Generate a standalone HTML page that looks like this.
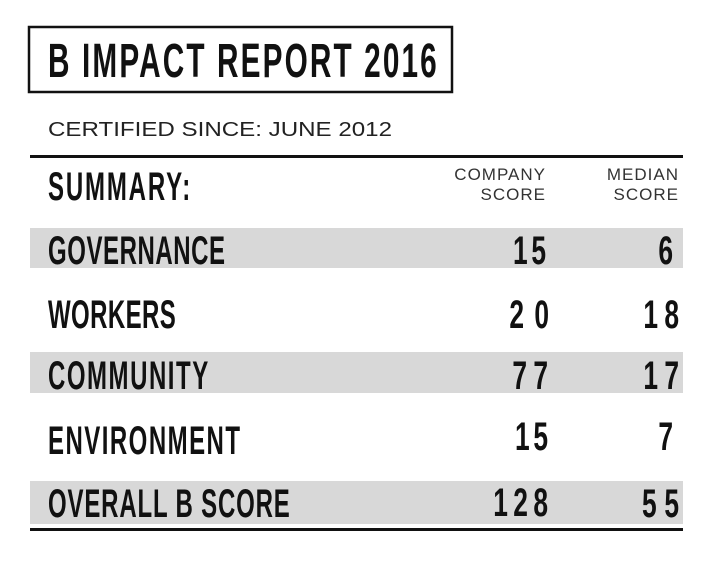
<!DOCTYPE html>
<html><head><style>html,body{margin:0;padding:0;background:#fff;}svg{display:block}</style></head>
<body>
<svg width="721" height="566" viewBox="0 0 721 566" xmlns="http://www.w3.org/2000/svg">
<rect width="721" height="566" fill="#fff"/>
<rect x="29" y="27" width="423" height="65" fill="none" stroke="#111" stroke-width="2.5"/>
<g font-family="Liberation Sans, sans-serif" fill="#111">
<text transform="translate(48,77) scale(0.62,1)" font-size="48" font-weight="bold" textLength="627" lengthAdjust="spacing">B IMPACT REPORT 2016</text>
<text x="48" y="136" font-size="20" textLength="344" lengthAdjust="spacingAndGlyphs" fill="#222">CERTIFIED SINCE: JUNE 2012</text>
<rect x="30" y="155" width="653" height="3" fill="#111"/>
<text transform="translate(48,200) scale(0.6,1)" font-size="40" font-weight="bold" textLength="237" lengthAdjust="spacing">SUMMARY:</text>
<text x="546" y="180" font-size="17" text-anchor="end" fill="#333" letter-spacing="1">COMPANY</text>
<text x="546" y="200" font-size="17" text-anchor="end" fill="#333" letter-spacing="1">SCORE</text>
<text x="679" y="180" font-size="17" text-anchor="end" fill="#333" letter-spacing="1">MEDIAN</text>
<text x="679" y="200" font-size="17" text-anchor="end" fill="#333" letter-spacing="1">SCORE</text>
<rect x="30" y="228" width="653" height="40" fill="#d8d8d8"/>
<rect x="30" y="352" width="653" height="41" fill="#d8d8d8"/>
<rect x="30" y="481" width="653" height="43" fill="#d8d8d8"/>
<rect x="30" y="528" width="653" height="3" fill="#111"/>
<g font-size="40" font-weight="bold">
<text transform="translate(48,264) scale(0.6,1)" textLength="295" lengthAdjust="spacing">GOVERNANCE</text>
<text transform="translate(48,328) scale(0.6,1)" textLength="213" lengthAdjust="spacing">WORKERS</text>
<text transform="translate(48,389) scale(0.6,1)" textLength="267" lengthAdjust="spacing">COMMUNITY</text>
<text transform="translate(48,454) scale(0.6,1)" textLength="320" lengthAdjust="spacing">ENVIRONMENT</text>
<text transform="translate(48,517) scale(0.6,1)" textLength="403" lengthAdjust="spacing">OVERALL B SCORE</text>
</g>
<g font-size="40" font-weight="bold" text-anchor="end">
<text transform="translate(546,264) scale(0.66,1)" textLength="50" lengthAdjust="spacing">15</text>
<text transform="translate(673,264) scale(0.66,1)">6</text>
<text transform="translate(549,328) scale(0.66,1)" textLength="60" lengthAdjust="spacing">20</text>
<text transform="translate(679,328) scale(0.66,1)" textLength="54" lengthAdjust="spacing">18</text>
<text transform="translate(548,389) scale(0.66,1)" textLength="54" lengthAdjust="spacing">77</text>
<text transform="translate(679,389) scale(0.66,1)" textLength="54" lengthAdjust="spacing">17</text>
<text transform="translate(548,450) scale(0.66,1)" textLength="50" lengthAdjust="spacing">15</text>
<text transform="translate(673,450) scale(0.66,1)">7</text>
<text transform="translate(548,516) scale(0.66,1)" textLength="83" lengthAdjust="spacing">128</text>
<text transform="translate(679,517) scale(0.66,1)" textLength="56" lengthAdjust="spacing">55</text>
</g>
</g>
</svg>
</body></html>
